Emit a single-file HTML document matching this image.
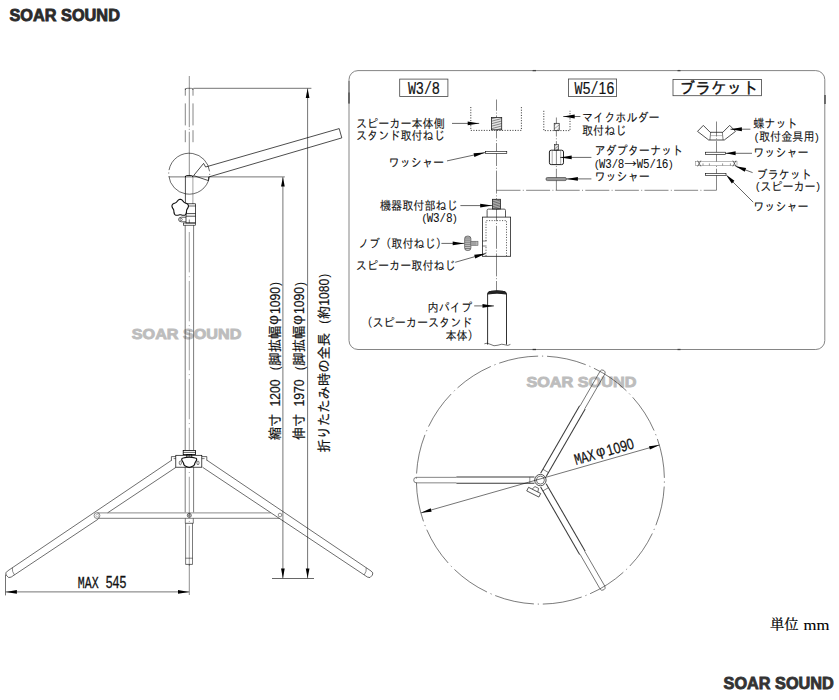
<!DOCTYPE html>
<html lang="ja">
<head>
<meta charset="utf-8">
<title>SOAR SOUND スピーカースタンド 寸法図</title>
<style>
html,body{margin:0;padding:0;background:#fff;}
body{width:839px;height:700px;overflow:hidden;font-family:"Liberation Sans","IPAGothic",sans-serif;}
svg{display:block;}
svg text{white-space:pre;}
</style>
</head>
<body>
<svg width="839" height="700" viewBox="0 0 839 700" role="img" aria-label="スピーカースタンド寸法図">
<rect x="0" y="0" width="839" height="700" fill="#fff"/>
<g id="brand" font-family="'Liberation Sans',sans-serif" font-weight="bold">
<text x="9.5" y="21.3" font-size="15.6" textLength="110.4" lengthAdjust="spacingAndGlyphs" fill="#2b2b2b" stroke="#2b2b2b" stroke-width="0.8">SOAR SOUND</text>
<text x="723.6" y="689.0" font-size="15.6" textLength="110.2" lengthAdjust="spacingAndGlyphs" fill="#333" stroke="#333" stroke-width="0.8">SOAR SOUND</text>
<text x="131.8" y="339.1" font-size="15.4" textLength="109.6" lengthAdjust="spacingAndGlyphs" fill="#bdbdbd" stroke="#bdbdbd" stroke-width="0.9">SOAR SOUND</text>
<text x="526.4" y="387.0" font-size="15.4" textLength="110.0" lengthAdjust="spacingAndGlyphs" fill="#bdbdbd" stroke="#bdbdbd" stroke-width="0.9">SOAR SOUND</text>
</g>
<g id="stand">
<line x1="189.30" y1="76.00" x2="189.30" y2="127.20" stroke="#333" stroke-width="0.55"/>
<line x1="189.30" y1="128.80" x2="189.30" y2="129.80" stroke="#333" stroke-width="0.55"/>
<line x1="189.30" y1="131.80" x2="189.30" y2="176.00" stroke="#333" stroke-width="0.55"/>
<line x1="189.30" y1="232.00" x2="189.30" y2="566.00" stroke="#444" stroke-width="0.5" stroke-dasharray="40.4 3.8 1 3.75"/>
<line x1="189.30" y1="564.60" x2="189.30" y2="595.00" stroke="#333" stroke-width="0.55"/>
<line x1="185.30" y1="88.30" x2="185.30" y2="95.70" stroke="#222" stroke-width="0.55"/>
<line x1="185.30" y1="103.40" x2="185.30" y2="125.40" stroke="#222" stroke-width="0.55"/>
<line x1="185.30" y1="130.20" x2="185.30" y2="142.20" stroke="#222" stroke-width="0.55"/>
<line x1="193.00" y1="88.30" x2="193.00" y2="95.70" stroke="#222" stroke-width="0.55"/>
<line x1="193.00" y1="103.40" x2="193.00" y2="125.40" stroke="#222" stroke-width="0.55"/>
<line x1="193.00" y1="130.20" x2="193.00" y2="142.20" stroke="#222" stroke-width="0.55"/>
<path d="M185.3,90 Q185.3,88.3 187,88.3 L191.3,88.3 Q193,88.3 193,90" fill="none" stroke="#000" stroke-width="0.5" stroke-linejoin="round"/>
<circle cx="189.20" cy="173.70" r="20.50" fill="none" stroke="#000" stroke-width="0.55" stroke-dasharray="58 2.5 1 2.5" transform="rotate(190 189.2 173.7)"/>
<line x1="185.40" y1="176.20" x2="185.40" y2="204.00" stroke="#000" stroke-width="0.7"/>
<line x1="192.90" y1="176.20" x2="192.90" y2="204.00" stroke="#444" stroke-width="0.5"/>
<path d="M185.4,177 Q185.4,175.6 186.6,175.6 L191.7,175.6 Q192.9,175.6 192.9,177" fill="none" stroke="#000" stroke-width="0.9" stroke-linejoin="round"/>
<path d="M193.6,175.6 L203.6,163.4 L205.6,167.0 L339.2,128.6 L341.8,137.9 L208.6,177.0 L208.4,180.6 Z" fill="none" stroke="#000" stroke-width="0.7" stroke-linejoin="round"/>
<rect x="186.00" y="203.80" width="9.50" height="19.20" rx="0" fill="none" stroke="#000" stroke-width="0.7"/>
<line x1="186.00" y1="206.00" x2="195.50" y2="206.00" stroke="#000" stroke-width="0.6"/>
<line x1="186.00" y1="213.60" x2="195.50" y2="213.60" stroke="#000" stroke-width="0.7"/>
<line x1="186.00" y1="216.20" x2="195.50" y2="216.20" stroke="#000" stroke-width="0.7"/>
<rect x="183.40" y="223.00" width="12.00" height="2.20" rx="0" fill="none" stroke="#000" stroke-width="0.6"/>
<line x1="189.30" y1="219.50" x2="189.30" y2="223.00" stroke="#000" stroke-width="0.5"/>
<path d="M187.90,207.90 L187.59,208.42 L187.28,208.90 L187.01,209.35 L186.80,209.79 L186.65,210.25 L186.56,210.73 L186.52,211.26 L186.48,211.83 L186.43,212.43 L186.32,213.04 L186.13,213.63 L185.84,214.17 L185.46,214.63 L184.97,214.98 L184.42,215.21 L183.81,215.31 L183.19,215.31 L182.58,215.22 L181.99,215.09 L181.44,214.94 L180.93,214.83 L180.44,214.76 L179.96,214.76 L179.47,214.83 L178.96,214.94 L178.41,215.09 L177.82,215.22 L177.21,215.31 L176.59,215.31 L175.98,215.21 L175.43,214.98 L174.94,214.63 L174.56,214.17 L174.27,213.63 L174.08,213.04 L173.97,212.43 L173.92,211.83 L173.88,211.26 L173.84,210.73 L173.75,210.25 L173.60,209.79 L173.39,209.35 L173.12,208.90 L172.81,208.42 L172.50,207.90 L172.23,207.34 L172.03,206.75 L171.95,206.15 L171.99,205.55 L172.18,204.98 L172.49,204.47 L172.92,204.03 L173.42,203.67 L173.97,203.37 L174.52,203.14 L175.05,202.93 L175.54,202.72 L175.97,202.49 L176.36,202.21 L176.72,201.87 L177.06,201.47 L177.42,201.03 L177.82,200.58 L178.27,200.15 L178.77,199.78 L179.32,199.51 L179.90,199.37 L180.50,199.37 L181.08,199.51 L181.63,199.78 L182.13,200.15 L182.58,200.58 L182.98,201.03 L183.34,201.47 L183.68,201.87 L184.04,202.21 L184.43,202.49 L184.86,202.72 L185.35,202.93 L185.88,203.14 L186.43,203.37 L186.98,203.67 L187.48,204.03 L187.91,204.47 L188.22,204.98 L188.41,205.55 L188.45,206.15 L188.37,206.75 L188.17,207.34 Z" fill="#fff" stroke="#111" stroke-width="1.1" stroke-linejoin="round"/>
<path d="M186,217.2 L181.4,217.2 Q178.6,217.2 178.6,219.5 Q178.6,221.8 181.4,221.8 L186,221.8" fill="none" stroke="#222" stroke-width="0.75" stroke-linejoin="round"/>
<circle cx="181.20" cy="219.50" r="1.10" fill="none" stroke="#000" stroke-width="0.5"/>
<line x1="185.20" y1="225.20" x2="185.20" y2="450.40" stroke="#222" stroke-width="0.6"/>
<line x1="193.60" y1="225.20" x2="193.60" y2="450.40" stroke="#222" stroke-width="0.6"/>
<line x1="185.20" y1="467.30" x2="185.20" y2="512.40" stroke="#222" stroke-width="0.6"/>
<line x1="193.60" y1="467.30" x2="193.60" y2="512.40" stroke="#222" stroke-width="0.6"/>
<line x1="185.30" y1="518.40" x2="185.30" y2="523.30" stroke="#222" stroke-width="0.6"/>
<line x1="193.30" y1="518.40" x2="193.30" y2="523.30" stroke="#222" stroke-width="0.6"/>
<line x1="185.30" y1="523.30" x2="193.30" y2="523.30" stroke="#222" stroke-width="0.7"/>
<line x1="185.60" y1="523.30" x2="185.60" y2="564.40" stroke="#222" stroke-width="0.6"/>
<line x1="192.50" y1="523.30" x2="192.50" y2="564.40" stroke="#222" stroke-width="0.6"/>
<line x1="185.60" y1="558.20" x2="192.50" y2="558.20" stroke="#000" stroke-width="0.5"/>
<line x1="185.60" y1="564.40" x2="192.50" y2="564.40" stroke="#000" stroke-width="0.6"/>
<rect x="183.20" y="450.40" width="12.40" height="4.20" rx="0" fill="#fff" stroke="#000" stroke-width="0.8"/>
<line x1="183.20" y1="452.40" x2="195.60" y2="452.40" stroke="#000" stroke-width="0.6"/>
<rect x="186.80" y="454.60" width="5.00" height="2.60" rx="0" fill="none" stroke="#000" stroke-width="0.7"/>
<rect x="175.80" y="455.30" width="26.00" height="11.90" rx="0" fill="none" stroke="#000" stroke-width="0.7"/>
<path d="M175.8,456.6 L171.4,456.6 L171.4,460.6" fill="none" stroke="#000" stroke-width="0.6" stroke-linejoin="round"/>
<path d="M201.8,456.6 L206.8,456.6 L206.8,460.6" fill="none" stroke="#000" stroke-width="0.6" stroke-linejoin="round"/>
<line x1="173.60" y1="458.60" x2="175.80" y2="458.60" stroke="#000" stroke-width="0.5"/>
<line x1="201.80" y1="458.60" x2="204.60" y2="458.60" stroke="#000" stroke-width="0.5"/>
<path d="M183.2,458.0 Q181.2,458.2 181.9,460.4 L183.5,463.0 Q183.6,465.8 186.4,466.5 Q189.2,468.2 192.0,466.5 Q194.8,465.8 194.9,463.0 L196.5,460.4 Q197.2,458.2 195.2,458.0 Q189.2,456.4 183.2,458.0 Z" fill="#fff" stroke="#111" stroke-width="1.15" stroke-linejoin="round"/>
<ellipse cx="180.3" cy="462.9" rx="1.1" ry="1.9" fill="none" stroke="#000" stroke-width="0.5"/>
<ellipse cx="198.0" cy="462.9" rx="1.1" ry="1.9" fill="none" stroke="#000" stroke-width="0.5"/>
<line x1="206.90" y1="460.20" x2="371.20" y2="571.10" stroke="#1a1a1a" stroke-width="0.64"/>
<line x1="202.60" y1="467.30" x2="367.40" y2="577.06" stroke="#1a1a1a" stroke-width="0.64"/>
<path d="M371.20,571.10 Q373.80,572.70 372.40,575.10 Q370.00,579.06 367.40,577.06" fill="none" stroke="#000" stroke-width="0.6" stroke-linejoin="round"/>
<path d="M366.20,567.73 Q366.80,571.33 364.20,574.93" fill="none" stroke="#000" stroke-width="0.45" stroke-linejoin="round"/>
<line x1="171.70" y1="460.20" x2="7.40" y2="571.10" stroke="#1a1a1a" stroke-width="0.64"/>
<line x1="176.00" y1="467.30" x2="107.60" y2="512.85" stroke="#1a1a1a" stroke-width="0.64"/>
<line x1="98.20" y1="519.11" x2="11.20" y2="577.06" stroke="#1a1a1a" stroke-width="0.64"/>
<path d="M7.40,571.10 Q4.80,572.70 6.20,575.10 Q8.60,579.06 11.20,577.06" fill="none" stroke="#000" stroke-width="0.6" stroke-linejoin="round"/>
<path d="M12.40,567.73 Q11.80,571.33 14.40,574.93" fill="none" stroke="#000" stroke-width="0.45" stroke-linejoin="round"/>
<line x1="97.40" y1="512.90" x2="270.80" y2="512.90" stroke="#666" stroke-width="0.75"/>
<line x1="98.00" y1="518.30" x2="279.40" y2="518.30" stroke="#222" stroke-width="0.6"/>
<circle cx="97.00" cy="515.60" r="2.90" fill="none" stroke="#333" stroke-width="0.55"/>
<circle cx="97.20" cy="515.60" r="1.40" fill="none" stroke="#666" stroke-width="0.4"/>
<circle cx="280.00" cy="515.00" r="1.80" fill="none" stroke="#333" stroke-width="0.55"/>
<circle cx="189.30" cy="515.40" r="2.00" fill="none" stroke="#000" stroke-width="0.6"/>
<circle cx="189.30" cy="515.40" r="0.80" fill="none" stroke="#000" stroke-width="0.4"/>
<line x1="169.00" y1="176.90" x2="284.80" y2="176.90" stroke="#000" stroke-width="0.55"/>
<line x1="193.40" y1="88.30" x2="311.40" y2="88.30" stroke="#000" stroke-width="0.55"/>
<line x1="272.00" y1="578.50" x2="314.00" y2="578.50" stroke="#000" stroke-width="0.6"/>
<line x1="282.90" y1="300.00" x2="282.90" y2="578.20" stroke="#000" stroke-width="0.55"/>
<polygon points="282.90,578.20 281.05,568.40 284.75,568.40" fill="#000"/>
<line x1="282.90" y1="300.00" x2="282.90" y2="177.20" stroke="#000" stroke-width="0.55"/>
<polygon points="282.90,177.20 284.75,186.60 281.05,186.60" fill="#000"/>
<line x1="307.60" y1="300.00" x2="307.60" y2="578.20" stroke="#000" stroke-width="0.55"/>
<polygon points="307.60,578.20 305.75,568.40 309.45,568.40" fill="#000"/>
<line x1="307.60" y1="300.00" x2="307.60" y2="88.60" stroke="#000" stroke-width="0.55"/>
<polygon points="307.60,88.60 309.45,98.00 305.75,98.00" fill="#000"/>
<line x1="5.50" y1="574.60" x2="5.50" y2="595.40" stroke="#000" stroke-width="0.55"/>
<line x1="100.00" y1="591.90" x2="5.70" y2="591.90" stroke="#000" stroke-width="0.55"/>
<polygon points="5.70,591.90 16.90,589.95 16.90,593.85" fill="#000"/>
<line x1="100.00" y1="591.90" x2="189.20" y2="591.90" stroke="#000" stroke-width="0.55"/>
<polygon points="189.20,591.90 178.00,593.85 178.00,589.95" fill="#000"/>
</g>
<g id="detail">
<rect x="349.00" y="70.60" width="475.80" height="278.90" rx="9" fill="none" stroke="#858585" stroke-width="1.0"/>
<line x1="349.00" y1="81.00" x2="349.00" y2="103.50" stroke="#7a7a7a" stroke-width="1.2"/>
<line x1="349.00" y1="92.50" x2="349.00" y2="103.50" stroke="#555" stroke-width="1.4"/>
<line x1="825.00" y1="95.00" x2="825.00" y2="104.00" stroke="#555" stroke-width="1.6"/>
<line x1="532.60" y1="349.50" x2="536.00" y2="349.50" stroke="#333" stroke-width="1.3"/>
<line x1="532.60" y1="70.60" x2="536.00" y2="70.60" stroke="#444" stroke-width="1.3"/>
<line x1="677.50" y1="70.60" x2="680.50" y2="70.60" stroke="#444" stroke-width="1.3"/>
<line x1="677.50" y1="349.50" x2="680.50" y2="349.50" stroke="#444" stroke-width="1.3"/>
<rect x="399.70" y="79.10" width="48.20" height="17.40" rx="0" fill="none" stroke="#444" stroke-width="0.8"/>
<rect x="568.40" y="79.00" width="48.20" height="17.40" rx="0" fill="none" stroke="#444" stroke-width="0.8"/>
<rect x="673.00" y="79.50" width="88.60" height="16.20" rx="0" fill="none" stroke="#444" stroke-width="0.8"/>
<line x1="496.50" y1="99.50" x2="496.50" y2="291.00" stroke="#222" stroke-width="0.55" stroke-dasharray="23 1.8 1 1.8" stroke-dashoffset="11.7"/>
<line x1="556.40" y1="117.50" x2="556.40" y2="190.20" stroke="#222" stroke-width="0.55" stroke-dasharray="23 1.8 1 1.8" stroke-dashoffset="4"/>
<line x1="716.50" y1="121.50" x2="716.50" y2="190.20" stroke="#222" stroke-width="0.55" stroke-dasharray="23 1.8 1 1.8" stroke-dashoffset="8"/>
<line x1="496.50" y1="190.30" x2="716.50" y2="190.30" stroke="#222" stroke-width="0.55" stroke-dasharray="24 2.3 1 2.3"/>
<path d="M470.8,107 L470.8,130.4 L521.4,130.4 L521.4,107" fill="none" stroke="#2a2a2a" stroke-width="0.9" stroke-linejoin="round" stroke-dasharray="1.1 1.5"/>
<rect x="491.50" y="117.40" width="10.20" height="12.40" rx="0" fill="#e4e4e4" stroke="#222" stroke-width="0.8"/>
<line x1="491.50" y1="118.76" x2="496.60" y2="117.40" stroke="#333" stroke-width="0.55"/>
<line x1="491.50" y1="121.24" x2="501.70" y2="118.52" stroke="#333" stroke-width="0.55"/>
<line x1="491.50" y1="123.72" x2="501.70" y2="121.00" stroke="#333" stroke-width="0.55"/>
<line x1="491.50" y1="126.20" x2="501.70" y2="123.48" stroke="#333" stroke-width="0.55"/>
<line x1="491.50" y1="128.68" x2="501.70" y2="125.96" stroke="#333" stroke-width="0.55"/>
<line x1="496.60" y1="129.80" x2="501.70" y2="128.44" stroke="#333" stroke-width="0.55"/>
<line x1="452.00" y1="123.40" x2="479.20" y2="123.40" stroke="#000" stroke-width="0.6"/>
<polygon points="479.20,123.40 467.70,125.35 467.70,121.45" fill="#000"/>
<rect x="485.40" y="151.30" width="21.40" height="2.30" rx="0" fill="#fff" stroke="#000" stroke-width="0.6"/>
<line x1="447.00" y1="160.90" x2="485.20" y2="152.60" stroke="#000" stroke-width="0.6"/>
<polygon points="485.20,152.60 474.38,156.95 473.55,153.14" fill="#000"/>
<rect x="492.50" y="199.30" width="8.00" height="9.70" rx="0" fill="#c8c8c8" stroke="#222" stroke-width="0.8"/>
<line x1="492.50" y1="200.19" x2="496.50" y2="199.30" stroke="#333" stroke-width="0.6"/>
<line x1="492.50" y1="201.81" x2="500.50" y2="200.03" stroke="#333" stroke-width="0.6"/>
<line x1="492.50" y1="203.42" x2="500.50" y2="201.64" stroke="#333" stroke-width="0.6"/>
<line x1="492.50" y1="205.04" x2="500.50" y2="203.26" stroke="#333" stroke-width="0.6"/>
<line x1="492.50" y1="206.66" x2="500.50" y2="204.88" stroke="#333" stroke-width="0.6"/>
<line x1="492.50" y1="208.27" x2="500.50" y2="206.49" stroke="#333" stroke-width="0.6"/>
<line x1="496.50" y1="209.00" x2="500.50" y2="208.11" stroke="#333" stroke-width="0.6"/>
<line x1="460.40" y1="205.60" x2="492.20" y2="205.60" stroke="#000" stroke-width="0.6"/>
<polygon points="492.20,205.60 480.20,207.50 480.20,203.70" fill="#000"/>
<path d="M487.1,217.1 L487.1,210.4 Q487.1,209.1 488.4,209.1 L504.2,209.1 Q505.5,209.1 505.5,210.4 L505.5,217.1" fill="none" stroke="#222" stroke-width="0.75" stroke-linejoin="round"/>
<rect x="482.40" y="217.10" width="28.20" height="39.20" rx="0" fill="none" stroke="#222" stroke-width="0.8"/>
<path d="M486,256 L486,246 M486,241 L486,220.6 L506.5,220.6 L506.5,256" fill="none" stroke="#333" stroke-width="0.8" stroke-linejoin="round" stroke-dasharray="1.1 1.5"/>
<line x1="482.60" y1="241.00" x2="486.60" y2="241.00" stroke="#000" stroke-width="0.5"/>
<line x1="482.60" y1="246.00" x2="486.60" y2="246.00" stroke="#000" stroke-width="0.5"/>
<rect x="464.60" y="236.10" width="6.30" height="14.40" rx="2.6" fill="#c4c4c4" stroke="#333" stroke-width="0.6"/>
<line x1="465.00" y1="238.00" x2="470.40" y2="238.00" stroke="#333" stroke-width="0.5"/>
<line x1="465.00" y1="240.10" x2="470.40" y2="240.10" stroke="#333" stroke-width="0.5"/>
<line x1="465.00" y1="242.20" x2="470.40" y2="242.20" stroke="#333" stroke-width="0.5"/>
<line x1="465.00" y1="244.30" x2="470.40" y2="244.30" stroke="#333" stroke-width="0.5"/>
<line x1="465.00" y1="246.40" x2="470.40" y2="246.40" stroke="#333" stroke-width="0.5"/>
<line x1="465.00" y1="248.50" x2="470.40" y2="248.50" stroke="#333" stroke-width="0.5"/>
<rect x="471.00" y="241.20" width="7.00" height="4.20" rx="0" fill="#b4b4b4" stroke="#555" stroke-width="0.5"/>
<line x1="473.00" y1="241.20" x2="473.00" y2="245.40" stroke="#555" stroke-width="0.4"/>
<line x1="475.00" y1="241.20" x2="475.00" y2="245.40" stroke="#555" stroke-width="0.4"/>
<line x1="441.40" y1="243.40" x2="464.20" y2="243.40" stroke="#000" stroke-width="0.6"/>
<polygon points="464.20,243.40 452.70,245.35 452.70,241.45" fill="#000"/>
<line x1="455.20" y1="262.30" x2="485.80" y2="253.50" stroke="#000" stroke-width="0.6"/>
<polygon points="485.80,253.50 475.29,258.55 474.21,254.80" fill="#000"/>
<path d="M487.6,344.6 L487.6,294 Q487.6,292 490,291.6 Q497,290.6 504,291.6 Q506.5,292 506.5,294 L506.5,344.6" fill="none" stroke="#1a1a1a" stroke-width="0.9" stroke-linejoin="round"/>
<path d="M488,294.0 Q488.4,291.6 491,291.4 Q497,290.4 503,291.4 Q505.6,291.6 506,294.0 Q497,292.2 488,294.0 Z" fill="#222" stroke="#222" stroke-width="1.1" stroke-linejoin="round"/>
<path d="M484.4,343.8 Q487,342.4 490,344.2 Q494,346.8 498,345.2 Q502,343.4 505,344.8 Q508,346.2 510.4,344.4" fill="none" stroke="#000" stroke-width="0.55" stroke-linejoin="round"/>
<line x1="474.20" y1="305.90" x2="494.00" y2="305.90" stroke="#000" stroke-width="0.6"/>
<polygon points="494.00,305.90 482.50,307.85 482.50,303.95" fill="#000"/>
<path d="M543.8,110.8 L543.8,130.6 L570.0,130.6 L570.0,110.8" fill="none" stroke="#2a2a2a" stroke-width="0.9" stroke-linejoin="round" stroke-dasharray="1.1 1.5"/>
<rect x="554.20" y="123.30" width="5.00" height="7.20" rx="0" fill="#f4f4f4" stroke="#222" stroke-width="0.7"/>
<line x1="554.20" y1="125.28" x2="556.70" y2="123.30" stroke="#333" stroke-width="0.4"/>
<line x1="554.20" y1="128.88" x2="559.20" y2="124.92" stroke="#333" stroke-width="0.4"/>
<line x1="556.70" y1="130.50" x2="559.20" y2="128.52" stroke="#333" stroke-width="0.4"/>
<line x1="580.40" y1="116.50" x2="563.20" y2="116.50" stroke="#000" stroke-width="0.6"/>
<polygon points="563.20,116.50 574.70,114.55 574.70,118.45" fill="#000"/>
<rect x="554.40" y="144.60" width="4.20" height="5.60" rx="0" fill="#ddd" stroke="#222" stroke-width="0.6"/>
<line x1="554.40" y1="146.14" x2="556.50" y2="144.60" stroke="#333" stroke-width="0.4"/>
<line x1="554.40" y1="148.94" x2="558.60" y2="145.86" stroke="#333" stroke-width="0.4"/>
<line x1="556.50" y1="150.20" x2="558.60" y2="148.66" stroke="#333" stroke-width="0.4"/>
<rect x="549.40" y="150.20" width="14.10" height="14.40" rx="1.8" fill="none" stroke="#222" stroke-width="1.0"/>
<line x1="552.20" y1="150.60" x2="552.20" y2="164.20" stroke="#444" stroke-width="0.45"/>
<line x1="560.70" y1="150.60" x2="560.70" y2="164.20" stroke="#444" stroke-width="0.45"/>
<line x1="591.40" y1="157.40" x2="560.20" y2="157.40" stroke="#000" stroke-width="0.6"/>
<polygon points="560.20,157.40 571.70,155.45 571.70,159.35" fill="#000"/>
<rect x="546.00" y="177.50" width="20.40" height="3.10" rx="1.4" fill="#999" stroke="#333" stroke-width="0.6"/>
<line x1="591.40" y1="178.90" x2="566.40" y2="178.90" stroke="#000" stroke-width="0.6"/>
<polygon points="566.40,178.90 577.90,176.95 577.90,180.85" fill="#000"/>
<path d="M710.20,132.3 L703.30,125.4 L697.50,131.4 L708.70,140.0" fill="none" stroke="#222" stroke-width="0.8" stroke-linejoin="round"/>
<path d="M722.80,132.3 L729.70,125.4 L735.50,131.4 L724.30,140.0" fill="none" stroke="#222" stroke-width="0.8" stroke-linejoin="round"/>
<path d="M710.20,132.3 L722.80,132.3 M708.70,140 L724.30,140" fill="none" stroke="#222" stroke-width="0.8" stroke-linejoin="round"/>
<line x1="710.70" y1="132.20" x2="709.90" y2="140.00" stroke="#000" stroke-width="0.5"/>
<line x1="722.30" y1="132.20" x2="723.10" y2="140.00" stroke="#000" stroke-width="0.5"/>
<line x1="710.70" y1="135.60" x2="722.30" y2="135.60" stroke="#555" stroke-width="0.4"/>
<line x1="750.40" y1="129.20" x2="730.40" y2="129.20" stroke="#000" stroke-width="0.6"/>
<polygon points="730.40,129.20 741.90,127.25 741.90,131.15" fill="#000"/>
<rect x="705.40" y="152.20" width="20.20" height="2.30" rx="0" fill="#fff" stroke="#000" stroke-width="0.6"/>
<line x1="752.00" y1="153.30" x2="725.60" y2="153.30" stroke="#000" stroke-width="0.6"/>
<polygon points="725.60,153.30 735.60,151.35 735.60,155.25" fill="#000"/>
<rect x="695.40" y="161.70" width="41.60" height="3.70" rx="0" fill="#fff" stroke="#777" stroke-width="0.5"/>
<line x1="697.60" y1="160.60" x2="700.80" y2="166.40" stroke="#222" stroke-width="0.6"/>
<line x1="700.80" y1="160.60" x2="697.60" y2="166.40" stroke="#222" stroke-width="0.6"/>
<line x1="732.80" y1="160.60" x2="736.00" y2="166.40" stroke="#222" stroke-width="0.6"/>
<line x1="736.00" y1="160.60" x2="732.80" y2="166.40" stroke="#222" stroke-width="0.6"/>
<line x1="703.00" y1="163.40" x2="703.00" y2="165.40" stroke="#000" stroke-width="0.4"/>
<line x1="709.40" y1="163.40" x2="709.40" y2="165.40" stroke="#000" stroke-width="0.4"/>
<line x1="722.60" y1="163.40" x2="722.60" y2="165.40" stroke="#000" stroke-width="0.4"/>
<line x1="730.40" y1="163.40" x2="730.40" y2="165.40" stroke="#000" stroke-width="0.4"/>
<line x1="752.60" y1="172.60" x2="735.60" y2="166.30" stroke="#000" stroke-width="0.6"/>
<polygon points="735.60,166.30 746.12,168.12 744.77,171.78" fill="#000"/>
<rect x="705.40" y="173.30" width="20.60" height="2.20" rx="0" fill="#fff" stroke="#000" stroke-width="0.6"/>
<path d="M753.2,202.2 L733,182" fill="none" stroke="#000" stroke-width="0.6" stroke-linejoin="round"/>
<polygon points="725.80,174.60 734.41,180.87 731.83,183.38" fill="#000"/>
</g>
<g id="topview">
<circle cx="540.40" cy="480.10" r="124.00" fill="none" stroke="#222" stroke-width="0.6" stroke-dasharray="1.2 3.9 39.69 3.9" stroke-dashoffset="-1.4"/>
<g transform="rotate(180 540.4 480.1)">
<line x1="546.40" y1="476.90" x2="624.40" y2="476.90" stroke="#3a3a3a" stroke-width="1.05"/>
<line x1="546.40" y1="483.30" x2="624.40" y2="483.30" stroke="#3a3a3a" stroke-width="1.05"/>
<path d="M624.4,477.35 L664.4,477.35 Q667.1,477.35 667.1,480.1 Q667.1,482.85 664.4,482.85 L624.4,482.85" fill="none" stroke="#333" stroke-width="0.6" stroke-linejoin="round"/>
<line x1="551.00" y1="476.90" x2="551.00" y2="483.30" stroke="#444" stroke-width="0.6"/>
</g>
<g transform="rotate(-60 540.4 480.1)">
<line x1="546.40" y1="476.90" x2="624.40" y2="476.90" stroke="#3a3a3a" stroke-width="1.05"/>
<line x1="546.40" y1="483.30" x2="624.40" y2="483.30" stroke="#3a3a3a" stroke-width="1.05"/>
<path d="M624.4,477.35 L664.4,477.35 Q667.1,477.35 667.1,480.1 Q667.1,482.85 664.4,482.85 L624.4,482.85" fill="none" stroke="#333" stroke-width="0.6" stroke-linejoin="round"/>
<line x1="551.00" y1="476.90" x2="551.00" y2="483.30" stroke="#444" stroke-width="0.6"/>
</g>
<g transform="rotate(60 540.4 480.1)">
<line x1="546.40" y1="476.90" x2="624.40" y2="476.90" stroke="#3a3a3a" stroke-width="1.05"/>
<line x1="546.40" y1="483.30" x2="624.40" y2="483.30" stroke="#3a3a3a" stroke-width="1.05"/>
<path d="M624.4,477.35 L664.4,477.35 Q667.1,477.35 667.1,480.1 Q667.1,482.85 664.4,482.85 L624.4,482.85" fill="none" stroke="#333" stroke-width="0.6" stroke-linejoin="round"/>
<line x1="551.00" y1="476.90" x2="551.00" y2="483.30" stroke="#444" stroke-width="0.6"/>
</g>
<circle cx="540.40" cy="480.10" r="5.70" fill="#fff" stroke="#3a3a3a" stroke-width="0.9"/>
<circle cx="540.40" cy="480.10" r="4.00" fill="none" stroke="#3a3a3a" stroke-width="0.7"/>
<g transform="rotate(27 533.8 492)">
<rect x="527.00" y="490.20" width="13.60" height="4.00" rx="0" fill="#fff" stroke="#333" stroke-width="0.75"/>
<path d="M531.0,490.2 L532.4,486.6 L536.4,486.6 L537.4,490.2" fill="none" stroke="#333" stroke-width="0.65" stroke-linejoin="round"/>
</g>
<line x1="421.04" y1="512.87" x2="659.56" y2="444.93" stroke="#000" stroke-width="0.55"/>
<polygon points="659.56,444.93 649.92,449.44 648.99,446.17" fill="#000"/>
<polygon points="421.04,512.87 430.68,508.36 431.61,511.63" fill="#000"/>
</g>
<g id="labels" font-family="'Liberation Mono','IPAGothic',monospace">
<text y="127.90" font-size="12.3" fill="#111" stroke="#111" stroke-width="0.08"><tspan x="356.00" textLength="88.80" lengthAdjust="spacingAndGlyphs">スピーカー本体側</tspan></text>
<text y="139.90" font-size="12.3" fill="#111" stroke="#111" stroke-width="0.08"><tspan x="356.00" textLength="88.80" lengthAdjust="spacingAndGlyphs">スタンド取付ねじ</tspan></text>
<text y="166.50" font-size="12.3" fill="#111" stroke="#111" stroke-width="0.08"><tspan x="388.60" textLength="55.50" lengthAdjust="spacingAndGlyphs">ワッシャー</tspan></text>
<text y="209.50" font-size="12.3" fill="#111" stroke="#111" stroke-width="0.08"><tspan x="380.00" textLength="77.70" lengthAdjust="spacingAndGlyphs">機器取付部ねじ</tspan></text>
<text y="222.30" font-size="12.3" fill="#111" stroke="#111" stroke-width="0.08"><tspan x="421.30" y="222.00" font-size="11.79" stroke-width="0" textLength="6.42" lengthAdjust="spacingAndGlyphs">(</tspan><tspan x="426.72" y="222.30" font-size="13.10" textLength="6.42" lengthAdjust="spacingAndGlyphs">W</tspan><tspan x="433.29" y="222.30" font-family="'Liberation Sans','IPAGothic',sans-serif" font-size="12.51" textLength="6.12" lengthAdjust="spacingAndGlyphs">3</tspan><tspan x="439.56" y="222.30" font-size="13.10" textLength="6.42" lengthAdjust="spacingAndGlyphs">/</tspan><tspan x="446.13" y="222.30" font-family="'Liberation Sans','IPAGothic',sans-serif" font-size="12.51" textLength="6.12" lengthAdjust="spacingAndGlyphs">8</tspan><tspan x="451.40" y="222.00" font-size="11.79" stroke-width="0" textLength="6.42" lengthAdjust="spacingAndGlyphs">)</tspan></text>
<text y="247.90" font-size="12.3" fill="#111" stroke="#111" stroke-width="0.08"><tspan x="358.00" textLength="88.80" lengthAdjust="spacingAndGlyphs">ノブ（取付ねじ）</tspan></text>
<text y="269.50" font-size="12.3" fill="#111" stroke="#111" stroke-width="0.08"><tspan x="355.80" textLength="99.90" lengthAdjust="spacingAndGlyphs">スピーカー取付ねじ</tspan></text>
<text y="311.70" font-size="12.3" fill="#111" stroke="#111" stroke-width="0.08"><tspan x="427.60" textLength="44.40" lengthAdjust="spacingAndGlyphs">内パイプ</tspan></text>
<text y="327.10" font-size="12.3" fill="#111" stroke="#111" stroke-width="0.08"><tspan x="361.40" textLength="111.00" lengthAdjust="spacingAndGlyphs">（スピーカースタンド</tspan></text>
<text y="339.90" font-size="12.3" fill="#111" stroke="#111" stroke-width="0.08"><tspan x="445.40" textLength="33.30" lengthAdjust="spacingAndGlyphs">本体）</tspan></text>
<text y="121.90" font-size="12.3" fill="#111" stroke="#111" stroke-width="0.08"><tspan x="582.00" textLength="77.70" lengthAdjust="spacingAndGlyphs">マイクホルダー</tspan></text>
<text y="134.70" font-size="12.3" fill="#111" stroke="#111" stroke-width="0.08"><tspan x="582.00" textLength="44.40" lengthAdjust="spacingAndGlyphs">取付ねじ</tspan></text>
<text y="154.50" font-size="12.3" fill="#111" stroke="#111" stroke-width="0.08"><tspan x="594.40" textLength="88.80" lengthAdjust="spacingAndGlyphs">アダプターナット</tspan></text>
<text y="168.20" font-size="12.3" fill="#111" stroke="#111" stroke-width="0.08"><tspan x="593.70" y="167.90" font-size="11.79" stroke-width="0" textLength="6.31" lengthAdjust="spacingAndGlyphs">(</tspan><tspan x="599.01" y="168.20" font-size="13.10" textLength="6.31" lengthAdjust="spacingAndGlyphs">W</tspan><tspan x="605.47" y="168.20" font-family="'Liberation Sans','IPAGothic',sans-serif" font-size="12.51" textLength="6.01" lengthAdjust="spacingAndGlyphs">3</tspan><tspan x="611.63" y="168.20" font-size="13.10" textLength="6.31" lengthAdjust="spacingAndGlyphs">/</tspan><tspan x="618.09" y="168.20" font-family="'Liberation Sans','IPAGothic',sans-serif" font-size="12.51" textLength="6.01" lengthAdjust="spacingAndGlyphs">8</tspan><tspan x="624.80" y="166.85" font-size="19.29">→</tspan><tspan x="636.87" y="168.20" font-size="13.10" textLength="6.31" lengthAdjust="spacingAndGlyphs">W</tspan><tspan x="643.33" y="168.20" font-family="'Liberation Sans','IPAGothic',sans-serif" font-size="12.51" textLength="6.01" lengthAdjust="spacingAndGlyphs">5</tspan><tspan x="649.49" y="168.20" font-size="13.10" textLength="6.31" lengthAdjust="spacingAndGlyphs">/</tspan><tspan x="655.95" y="168.20" font-family="'Liberation Sans','IPAGothic',sans-serif" font-size="12.51" textLength="12.32" lengthAdjust="spacingAndGlyphs">16</tspan><tspan x="667.42" y="167.90" font-size="11.79" stroke-width="0" textLength="6.31" lengthAdjust="spacingAndGlyphs">)</tspan></text>
<text y="180.90" font-size="12.3" fill="#111" stroke="#111" stroke-width="0.08"><tspan x="594.40" textLength="55.50" lengthAdjust="spacingAndGlyphs">ワッシャー</tspan></text>
<text y="127.70" font-size="12.3" fill="#111" stroke="#111" stroke-width="0.08"><tspan x="753.20" textLength="44.40" lengthAdjust="spacingAndGlyphs">蝶ナット</tspan></text>
<text y="141.30" font-size="12.3" fill="#111" stroke="#111" stroke-width="0.08"><tspan x="753.60" y="141.00" font-size="11.70" stroke-width="0" textLength="6.40" lengthAdjust="spacingAndGlyphs">(</tspan><tspan x="759.00" y="141.30" textLength="55.50" lengthAdjust="spacingAndGlyphs">取付金具用</tspan><tspan x="813.50" y="141.00" font-size="11.70" stroke-width="0" textLength="6.40" lengthAdjust="spacingAndGlyphs">)</tspan></text>
<text y="156.70" font-size="12.3" fill="#111" stroke="#111" stroke-width="0.08"><tspan x="753.20" textLength="55.50" lengthAdjust="spacingAndGlyphs">ワッシャー</tspan></text>
<text y="178.50" font-size="12.3" fill="#111" stroke="#111" stroke-width="0.08"><tspan x="756.40" textLength="55.50" lengthAdjust="spacingAndGlyphs">ブラケット</tspan></text>
<text y="190.70" font-size="12.3" fill="#111" stroke="#111" stroke-width="0.08"><tspan x="754.80" y="190.40" font-size="11.70" stroke-width="0" textLength="6.40" lengthAdjust="spacingAndGlyphs">(</tspan><tspan x="760.20" y="190.70" textLength="55.50" lengthAdjust="spacingAndGlyphs">スピーカー</tspan><tspan x="814.70" y="190.40" font-size="11.70" stroke-width="0" textLength="6.40" lengthAdjust="spacingAndGlyphs">)</tspan></text>
<text y="210.70" font-size="12.3" fill="#111" stroke="#111" stroke-width="0.08"><tspan x="753.20" textLength="55.50" lengthAdjust="spacingAndGlyphs">ワッシャー</tspan></text>
<text y="93.80" font-size="16" fill="#111" stroke="#111" stroke-width="0.2"><tspan x="408.00" font-size="18.00" textLength="7.95" lengthAdjust="spacingAndGlyphs">W</tspan><tspan x="416.10" y="93.80" font-family="'Liberation Sans','IPAGothic',sans-serif" font-size="17.19" textLength="7.65" lengthAdjust="spacingAndGlyphs">3</tspan><tspan x="423.90" y="93.80" font-size="18.00" textLength="7.95" lengthAdjust="spacingAndGlyphs">/</tspan><tspan x="432.00" y="93.80" font-family="'Liberation Sans','IPAGothic',sans-serif" font-size="17.19" textLength="7.65" lengthAdjust="spacingAndGlyphs">8</tspan></text>
<text y="93.80" font-size="16" fill="#111" stroke="#111" stroke-width="0.2"><tspan x="574.60" font-size="18.00" textLength="7.95" lengthAdjust="spacingAndGlyphs">W</tspan><tspan x="582.70" y="93.80" font-family="'Liberation Sans','IPAGothic',sans-serif" font-size="17.19" textLength="7.65" lengthAdjust="spacingAndGlyphs">5</tspan><tspan x="590.50" y="93.80" font-size="18.00" textLength="7.95" lengthAdjust="spacingAndGlyphs">/</tspan><tspan x="598.60" y="93.80" font-family="'Liberation Sans','IPAGothic',sans-serif" font-size="17.19" textLength="15.60" lengthAdjust="spacingAndGlyphs">16</tspan></text>
<text y="93.90" font-size="16.4" fill="#111" stroke="#111" stroke-width="0.3"><tspan x="679.20" textLength="79.00" lengthAdjust="spacingAndGlyphs">ブラケット</tspan></text>
<text y="587.90" font-size="14" fill="#111" stroke="#111" stroke-width="0.3"><tspan x="77.80" font-size="16.60" textLength="27.80" lengthAdjust="spacingAndGlyphs">MAX </tspan><tspan x="105.75" y="587.90" font-family="'Liberation Sans','IPAGothic',sans-serif" font-size="15.85" textLength="20.55" lengthAdjust="spacingAndGlyphs">545</tspan></text>
<text y="440.20" font-size="14.0" fill="#111" stroke="#111" stroke-width="0.2" transform="rotate(-90 279.80 440.20)"><tspan x="279.80" textLength="26.60" lengthAdjust="spacingAndGlyphs">縮寸</tspan><tspan x="306.40" font-size="14.40" textLength="6.85" lengthAdjust="spacingAndGlyphs"> </tspan><tspan x="313.40" y="440.20" font-family="'Liberation Sans','IPAGothic',sans-serif" font-size="13.75" textLength="27.10" lengthAdjust="spacingAndGlyphs">1200</tspan><tspan x="341.65" y="439.90" font-size="12.96" stroke-width="0" textLength="13.70" lengthAdjust="spacingAndGlyphs"> (</tspan><tspan x="354.35" y="440.20" textLength="39.90" lengthAdjust="spacingAndGlyphs">脚拡幅</tspan><tspan x="395.51" y="438.31" font-size="15.12">φ</tspan><tspan x="406.00" y="440.20" font-family="'Liberation Sans','IPAGothic',sans-serif" font-size="13.75" textLength="27.10" lengthAdjust="spacingAndGlyphs">1090</tspan><tspan x="432.25" y="439.90" font-size="12.96" stroke-width="0" textLength="6.85" lengthAdjust="spacingAndGlyphs">)</tspan></text>
<text y="440.20" font-size="14.0" fill="#111" stroke="#111" stroke-width="0.2" transform="rotate(-90 304.20 440.20)"><tspan x="304.20" textLength="26.60" lengthAdjust="spacingAndGlyphs">伸寸</tspan><tspan x="330.80" font-size="14.40" textLength="6.85" lengthAdjust="spacingAndGlyphs"> </tspan><tspan x="337.80" y="440.20" font-family="'Liberation Sans','IPAGothic',sans-serif" font-size="13.75" textLength="27.10" lengthAdjust="spacingAndGlyphs">1970</tspan><tspan x="366.05" y="439.90" font-size="12.96" stroke-width="0" textLength="13.70" lengthAdjust="spacingAndGlyphs"> (</tspan><tspan x="378.75" y="440.20" textLength="39.90" lengthAdjust="spacingAndGlyphs">脚拡幅</tspan><tspan x="419.91" y="438.31" font-size="15.12">φ</tspan><tspan x="430.40" y="440.20" font-family="'Liberation Sans','IPAGothic',sans-serif" font-size="13.75" textLength="27.10" lengthAdjust="spacingAndGlyphs">1090</tspan><tspan x="456.65" y="439.90" font-size="12.96" stroke-width="0" textLength="6.85" lengthAdjust="spacingAndGlyphs">)</tspan></text>
<text y="452.60" font-size="14.0" fill="#111" stroke="#111" stroke-width="0.2" transform="rotate(-90 328.70 452.60)"><tspan x="328.70" textLength="119.70" lengthAdjust="spacingAndGlyphs">折りたたみ時の全長</tspan><tspan x="449.40" y="452.30" font-size="12.96" stroke-width="0" textLength="13.70" lengthAdjust="spacingAndGlyphs"> (</tspan><tspan x="462.10" y="452.60" textLength="13.30" lengthAdjust="spacingAndGlyphs">約</tspan><tspan x="475.55" y="452.60" font-family="'Liberation Sans','IPAGothic',sans-serif" font-size="13.75" textLength="27.10" lengthAdjust="spacingAndGlyphs">1080</tspan><tspan x="501.80" y="452.30" font-size="12.96" stroke-width="0" textLength="6.85" lengthAdjust="spacingAndGlyphs">)</tspan></text>
<text y="465.10" font-size="13.4" fill="#111" stroke="#111" stroke-width="0.25" transform="rotate(-16 575.9 465.1)"><tspan x="575.90" font-size="16.00" textLength="21.00" lengthAdjust="spacingAndGlyphs">MAX</tspan><tspan x="598.86" y="463.29" font-size="14.47">φ</tspan><tspan x="609.65" y="465.10" font-family="'Liberation Sans','IPAGothic',sans-serif" font-size="15.28" textLength="27.70" lengthAdjust="spacingAndGlyphs">1090</tspan></text>
</g>
<text x="769.9" y="629.3" font-family="'Liberation Serif','Noto Serif CJK JP','Noto Serif CJK SC',serif" font-size="13.8" fill="#000" stroke="#000" stroke-width="0.22"><tspan textLength="28.8" lengthAdjust="spacingAndGlyphs">単位</tspan><tspan> </tspan><tspan x="803.6" y="630.2" font-size="15" stroke-width="0.1" textLength="25.9" lengthAdjust="spacingAndGlyphs">mm</tspan></text>
</svg>
</body>
</html>
